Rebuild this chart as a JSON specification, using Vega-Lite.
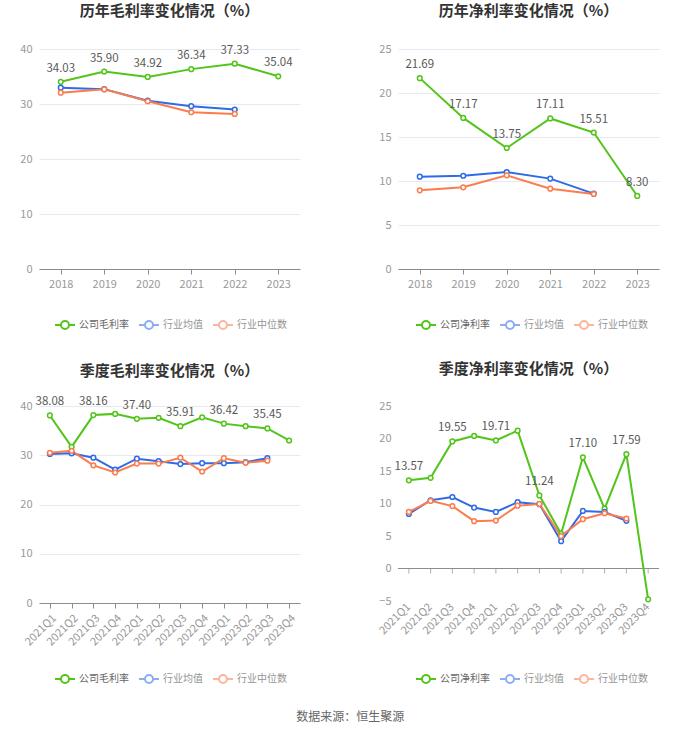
{
  "$schema": "https://vega.github.io/schema/vega-lite/v6.json",
  "padding": {"left": 9, "top": 4, "right": 0, "bottom": 0},
  "background": "white",
  "config": {
    "font": "Noto Sans CJK SC",
    "view": {"stroke": null},
    "title": {"fontSize": 15, "fontWeight": "bold", "color": "#333333", "frame": "group", "anchor": "middle", "offset": 24},
    "axis": {"labelColor": "#999999", "labelFontSize": 11, "title": null},
    "legend": {"labelColor": "#666666", "labelFontSize": 10}
  },
  "title": {"text": "数据来源：恒生聚源", "orient": "bottom", "fontSize": 12, "fontWeight": "normal", "color": "#666666", "anchor": "middle", "frame": "bounds", "offset": 25, "dx": 16},
  "datasets": {
    "annualGross": [
      {"p": "2018", "s": "公司毛利率", "v": 34.03, "l": true},
      {"p": "2019", "s": "公司毛利率", "v": 35.90, "l": true},
      {"p": "2020", "s": "公司毛利率", "v": 34.92, "l": true},
      {"p": "2021", "s": "公司毛利率", "v": 36.34, "l": true},
      {"p": "2022", "s": "公司毛利率", "v": 37.33, "l": true},
      {"p": "2023", "s": "公司毛利率", "v": 35.04, "l": true},
      {"p": "2018", "s": "行业均值", "v": 32.97, "l": false},
      {"p": "2019", "s": "行业均值", "v": 32.70, "l": false},
      {"p": "2020", "s": "行业均值", "v": 30.60, "l": false},
      {"p": "2021", "s": "行业均值", "v": 29.60, "l": false},
      {"p": "2022", "s": "行业均值", "v": 29.00, "l": false},
      {"p": "2018", "s": "行业中位数", "v": 32.06, "l": false},
      {"p": "2019", "s": "行业中位数", "v": 32.67, "l": false},
      {"p": "2020", "s": "行业中位数", "v": 30.50, "l": false},
      {"p": "2021", "s": "行业中位数", "v": 28.50, "l": false},
      {"p": "2022", "s": "行业中位数", "v": 28.20, "l": false}
    ],
    "annualNet": [
      {"p": "2018", "s": "公司净利率", "v": 21.69, "l": true},
      {"p": "2019", "s": "公司净利率", "v": 17.17, "l": true},
      {"p": "2020", "s": "公司净利率", "v": 13.75, "l": true},
      {"p": "2021", "s": "公司净利率", "v": 17.11, "l": true},
      {"p": "2022", "s": "公司净利率", "v": 15.51, "l": true},
      {"p": "2023", "s": "公司净利率", "v": 8.30, "l": true},
      {"p": "2018", "s": "行业均值", "v": 10.49, "l": false},
      {"p": "2019", "s": "行业均值", "v": 10.60, "l": false},
      {"p": "2020", "s": "行业均值", "v": 11.02, "l": false},
      {"p": "2021", "s": "行业均值", "v": 10.27, "l": false},
      {"p": "2022", "s": "行业均值", "v": 8.56, "l": false},
      {"p": "2018", "s": "行业中位数", "v": 8.94, "l": false},
      {"p": "2019", "s": "行业中位数", "v": 9.28, "l": false},
      {"p": "2020", "s": "行业中位数", "v": 10.64, "l": false},
      {"p": "2021", "s": "行业中位数", "v": 9.13, "l": false},
      {"p": "2022", "s": "行业中位数", "v": 8.52, "l": false}
    ],
    "quarterGross": [
      {"p": "2021Q1", "s": "公司毛利率", "v": 38.08, "l": true},
      {"p": "2021Q2", "s": "公司毛利率", "v": 31.70, "l": false},
      {"p": "2021Q3", "s": "公司毛利率", "v": 38.16, "l": true},
      {"p": "2021Q4", "s": "公司毛利率", "v": 38.40, "l": false},
      {"p": "2022Q1", "s": "公司毛利率", "v": 37.40, "l": true},
      {"p": "2022Q2", "s": "公司毛利率", "v": 37.60, "l": false},
      {"p": "2022Q3", "s": "公司毛利率", "v": 35.91, "l": true},
      {"p": "2022Q4", "s": "公司毛利率", "v": 37.70, "l": false},
      {"p": "2023Q1", "s": "公司毛利率", "v": 36.42, "l": true},
      {"p": "2023Q2", "s": "公司毛利率", "v": 35.90, "l": false},
      {"p": "2023Q3", "s": "公司毛利率", "v": 35.45, "l": true},
      {"p": "2023Q4", "s": "公司毛利率", "v": 33.00, "l": false},
      {"p": "2021Q1", "s": "行业均值", "v": 30.25, "l": false},
      {"p": "2021Q2", "s": "行业均值", "v": 30.40, "l": false},
      {"p": "2021Q3", "s": "行业均值", "v": 29.50, "l": false},
      {"p": "2021Q4", "s": "行业均值", "v": 27.10, "l": false},
      {"p": "2022Q1", "s": "行业均值", "v": 29.30, "l": false},
      {"p": "2022Q2", "s": "行业均值", "v": 28.80, "l": false},
      {"p": "2022Q3", "s": "行业均值", "v": 28.20, "l": false},
      {"p": "2022Q4", "s": "行业均值", "v": 28.40, "l": false},
      {"p": "2023Q1", "s": "行业均值", "v": 28.40, "l": false},
      {"p": "2023Q2", "s": "行业均值", "v": 28.60, "l": false},
      {"p": "2023Q3", "s": "行业均值", "v": 29.40, "l": false},
      {"p": "2021Q1", "s": "行业中位数", "v": 30.50, "l": false},
      {"p": "2021Q2", "s": "行业中位数", "v": 30.90, "l": false},
      {"p": "2021Q3", "s": "行业中位数", "v": 27.95, "l": false},
      {"p": "2021Q4", "s": "行业中位数", "v": 26.50, "l": false},
      {"p": "2022Q1", "s": "行业中位数", "v": 28.30, "l": false},
      {"p": "2022Q2", "s": "行业中位数", "v": 28.30, "l": false},
      {"p": "2022Q3", "s": "行业中位数", "v": 29.50, "l": false},
      {"p": "2022Q4", "s": "行业中位数", "v": 26.70, "l": false},
      {"p": "2023Q1", "s": "行业中位数", "v": 29.40, "l": false},
      {"p": "2023Q2", "s": "行业中位数", "v": 28.50, "l": false},
      {"p": "2023Q3", "s": "行业中位数", "v": 28.90, "l": false}
    ],
    "quarterNet": [
      {"p": "2021Q1", "s": "公司净利率", "v": 13.57, "l": true},
      {"p": "2021Q2", "s": "公司净利率", "v": 13.95, "l": false},
      {"p": "2021Q3", "s": "公司净利率", "v": 19.55, "l": true},
      {"p": "2021Q4", "s": "公司净利率", "v": 20.40, "l": false},
      {"p": "2022Q1", "s": "公司净利率", "v": 19.71, "l": true},
      {"p": "2022Q2", "s": "公司净利率", "v": 21.20, "l": false},
      {"p": "2022Q3", "s": "公司净利率", "v": 11.24, "l": true},
      {"p": "2022Q4", "s": "公司净利率", "v": 5.35, "l": false},
      {"p": "2023Q1", "s": "公司净利率", "v": 17.10, "l": true},
      {"p": "2023Q2", "s": "公司净利率", "v": 9.20, "l": false},
      {"p": "2023Q3", "s": "公司净利率", "v": 17.59, "l": true},
      {"p": "2023Q4", "s": "公司净利率", "v": -4.74, "l": false},
      {"p": "2021Q1", "s": "行业均值", "v": 8.40, "l": false},
      {"p": "2021Q2", "s": "行业均值", "v": 10.50, "l": false},
      {"p": "2021Q3", "s": "行业均值", "v": 11.00, "l": false},
      {"p": "2021Q4", "s": "行业均值", "v": 9.37, "l": false},
      {"p": "2022Q1", "s": "行业均值", "v": 8.70, "l": false},
      {"p": "2022Q2", "s": "行业均值", "v": 10.20, "l": false},
      {"p": "2022Q3", "s": "行业均值", "v": 9.90, "l": false},
      {"p": "2022Q4", "s": "行业均值", "v": 4.20, "l": false},
      {"p": "2023Q1", "s": "行业均值", "v": 8.86, "l": false},
      {"p": "2023Q2", "s": "行业均值", "v": 8.70, "l": false},
      {"p": "2023Q3", "s": "行业均值", "v": 7.33, "l": false},
      {"p": "2021Q1", "s": "行业中位数", "v": 8.70, "l": false},
      {"p": "2021Q2", "s": "行业中位数", "v": 10.40, "l": false},
      {"p": "2021Q3", "s": "行业中位数", "v": 9.60, "l": false},
      {"p": "2021Q4", "s": "行业中位数", "v": 7.28, "l": false},
      {"p": "2022Q1", "s": "行业中位数", "v": 7.38, "l": false},
      {"p": "2022Q2", "s": "行业中位数", "v": 9.67, "l": false},
      {"p": "2022Q3", "s": "行业中位数", "v": 9.93, "l": false},
      {"p": "2022Q4", "s": "行业中位数", "v": 4.99, "l": false},
      {"p": "2023Q1", "s": "行业中位数", "v": 7.59, "l": false},
      {"p": "2023Q2", "s": "行业中位数", "v": 8.50, "l": false},
      {"p": "2023Q3", "s": "行业中位数", "v": 7.69, "l": false}
    ]
  },
  "spacing": 29,
  "resolve": {"scale": {"color": "independent"}},
  "vconcat": [
    {
      "spacing": 68,
      "resolve": {"scale": {"color": "independent"}},
      "hconcat": [
        {
          "width": 261, "height": 220,
          "data": {"name": "annualGross"},
          "title": {"text": "历年毛利率变化情况（%）"},
          "layer": [
            {
              "mark": {"type": "line", "strokeWidth": 2, "point": {"filled": false, "fill": "white", "size": 22, "strokeWidth": 1.5}},
              "encoding": {
                "x": {"field": "p", "type": "ordinal", "sort": null, "axis": {"labelAngle": 0, "domainColor": "#8c8c8c", "tickColor": "#8c8c8c", "tickSize": 5, "labelPadding": 4}},
                "y": {"field": "v", "type": "quantitative", "scale": {"domain": [0, 40], "nice": false}, "axis": {"values": [0, 10, 20, 30, 40], "tickCount": 5, "domain": false, "ticks": false, "labelPadding": 7, "minExtent": 30, "maxExtent": 30, "gridColor": "#e6e9f2"}},
                "color": {"field": "s", "type": "nominal", "scale": {"domain": ["公司毛利率", "行业均值", "行业中位数"], "range": ["#52c41a", "#2f6be6", "#fb7c4c"]},
                  "legend": {"title": null, "orient": "none", "legendX": 15, "legendY": 265, "direction": "horizontal", "padding": 0, "columnPadding": 6, "labelOffset": 3, "symbolType": "M-1,0L-0.4,0M0.4,0L1,0M0.4,0A0.4,0.4 0 1,1 -0.4,0A0.4,0.4 0 1,1 0.4,0", "symbolSize": 400, "symbolStrokeWidth": 2,
                    "encode": {"symbols": {"update": {"opacity": {"signal": "datum.value == '公司毛利率' ? 1 : 0.55"}}}, "labels": {"update": {"opacity": {"signal": "datum.value == '公司毛利率' ? 1 : 0.7"}}}}}}
              }
            },
            {
              "transform": [{"filter": "datum.l"}],
              "mark": {"type": "text", "dy": -13, "fontSize": 11.5, "color": "#595959"},
              "encoding": {
                "x": {"field": "p", "type": "ordinal", "sort": null},
                "y": {"field": "v", "type": "quantitative"},
                "text": {"field": "v", "type": "quantitative", "format": ".2f"}
              }
            }
          ]
        },
        {
          "width": 261, "height": 220,
          "data": {"name": "annualNet"},
          "title": {"text": "历年净利率变化情况（%）"},
          "layer": [
            {
              "mark": {"type": "line", "strokeWidth": 2, "point": {"filled": false, "fill": "white", "size": 22, "strokeWidth": 1.5}},
              "encoding": {
                "x": {"field": "p", "type": "ordinal", "sort": null, "axis": {"labelAngle": 0, "domainColor": "#8c8c8c", "tickColor": "#8c8c8c", "tickSize": 5, "labelPadding": 4}},
                "y": {"field": "v", "type": "quantitative", "scale": {"domain": [0, 25], "nice": false}, "axis": {"values": [0, 5, 10, 15, 20, 25], "tickCount": 6, "domain": false, "ticks": false, "labelPadding": 7, "minExtent": 30, "maxExtent": 30, "gridColor": "#e6e9f2"}},
                "color": {"field": "s", "type": "nominal", "scale": {"domain": ["公司净利率", "行业均值", "行业中位数"], "range": ["#52c41a", "#2f6be6", "#fb7c4c"]},
                  "legend": {"title": null, "orient": "none", "legendX": 17, "legendY": 265, "direction": "horizontal", "padding": 0, "columnPadding": 6, "labelOffset": 3, "symbolType": "M-1,0L-0.4,0M0.4,0L1,0M0.4,0A0.4,0.4 0 1,1 -0.4,0A0.4,0.4 0 1,1 0.4,0", "symbolSize": 400, "symbolStrokeWidth": 2,
                    "encode": {"symbols": {"update": {"opacity": {"signal": "datum.value == '公司净利率' ? 1 : 0.55"}}}, "labels": {"update": {"opacity": {"signal": "datum.value == '公司净利率' ? 1 : 0.7"}}}}}}
              }
            },
            {
              "transform": [{"filter": "datum.l"}],
              "mark": {"type": "text", "dy": -13, "fontSize": 11.5, "color": "#595959"},
              "encoding": {
                "x": {"field": "p", "type": "ordinal", "sort": null},
                "y": {"field": "v", "type": "quantitative"},
                "text": {"field": "v", "type": "quantitative", "format": ".2f"}
              }
            }
          ]
        }
      ]
    },
    {
      "spacing": 68,
      "resolve": {"scale": {"color": "independent"}},
      "hconcat": [
        {
          "width": 261, "height": 197,
          "data": {"name": "quarterGross"},
          "title": {"text": "季度毛利率变化情况（%）", "offset": 17},
          "layer": [
            {
              "mark": {"type": "line", "strokeWidth": 2, "point": {"filled": false, "fill": "white", "size": 22, "strokeWidth": 1.5}},
              "encoding": {
                "x": {"field": "p", "type": "ordinal", "sort": null, "axis": {"labelAngle": -45, "domainColor": "#8c8c8c", "tickColor": "#8c8c8c", "tickSize": 5, "labelPadding": 4}},
                "y": {"field": "v", "type": "quantitative", "scale": {"domain": [0, 40], "nice": false}, "axis": {"values": [0, 10, 20, 30, 40], "tickCount": 5, "domain": false, "ticks": false, "labelPadding": 7, "minExtent": 30, "maxExtent": 30, "gridColor": "#e6e9f2"}},
                "color": {"field": "s", "type": "nominal", "scale": {"domain": ["公司毛利率", "行业均值", "行业中位数"], "range": ["#52c41a", "#2f6be6", "#fb7c4c"]},
                  "legend": {"title": null, "orient": "none", "legendX": 15, "legendY": 262, "direction": "horizontal", "padding": 0, "columnPadding": 6, "labelOffset": 3, "symbolType": "M-1,0L-0.4,0M0.4,0L1,0M0.4,0A0.4,0.4 0 1,1 -0.4,0A0.4,0.4 0 1,1 0.4,0", "symbolSize": 400, "symbolStrokeWidth": 2,
                    "encode": {"symbols": {"update": {"opacity": {"signal": "datum.value == '公司毛利率' ? 1 : 0.55"}}}, "labels": {"update": {"opacity": {"signal": "datum.value == '公司毛利率' ? 1 : 0.7"}}}}}}
              }
            },
            {
              "transform": [{"filter": "datum.l"}],
              "mark": {"type": "text", "dy": -13, "fontSize": 11.5, "color": "#595959"},
              "encoding": {
                "x": {"field": "p", "type": "ordinal", "sort": null},
                "y": {"field": "v", "type": "quantitative"},
                "text": {"field": "v", "type": "quantitative", "format": ".2f"}
              }
            }
          ]
        },
        {
          "width": 261, "height": 195,
          "data": {"name": "quarterNet"},
          "title": {"text": "季度净利率变化情况（%）", "offset": 23},
          "layer": [
            {
              "mark": {"type": "rule", "color": "#8c8c8c", "strokeWidth": 1},
              "encoding": {"y": {"datum": 0, "type": "quantitative"}}
            },
            {
              "transform": [{"filter": "datum.s == '公司净利率'"}],
              "mark": {"type": "tick", "orient": "vertical", "color": "#8c8c8c", "size": 5, "thickness": 1, "yOffset": 2.5},
              "encoding": {
                "x": {"field": "p", "type": "ordinal", "sort": null},
                "y": {"datum": 0, "type": "quantitative"}
              }
            },
            {
              "mark": {"type": "line", "strokeWidth": 2, "point": {"filled": false, "fill": "white", "size": 22, "strokeWidth": 1.5}},
              "encoding": {
                "x": {"field": "p", "type": "ordinal", "sort": null, "axis": {"labelAngle": -45, "domain": false, "ticks": false, "labelPadding": 4}},
                "y": {"field": "v", "type": "quantitative", "scale": {"domain": [-5, 25], "nice": false}, "axis": {"values": [-5, 0, 5, 10, 15, 20, 25], "tickCount": 7, "labelOverlap": false, "domain": false, "ticks": false, "labelPadding": 7, "minExtent": 30, "maxExtent": 30, "gridColor": "#e6e9f2"}},
                "color": {"field": "s", "type": "nominal", "scale": {"domain": ["公司净利率", "行业均值", "行业中位数"], "range": ["#52c41a", "#2f6be6", "#fb7c4c"]},
                  "legend": {"title": null, "orient": "none", "legendX": 17, "legendY": 262, "direction": "horizontal", "padding": 0, "columnPadding": 6, "labelOffset": 3, "symbolType": "M-1,0L-0.4,0M0.4,0L1,0M0.4,0A0.4,0.4 0 1,1 -0.4,0A0.4,0.4 0 1,1 0.4,0", "symbolSize": 400, "symbolStrokeWidth": 2,
                    "encode": {"symbols": {"update": {"opacity": {"signal": "datum.value == '公司净利率' ? 1 : 0.55"}}}, "labels": {"update": {"opacity": {"signal": "datum.value == '公司净利率' ? 1 : 0.7"}}}}}}
              }
            },
            {
              "transform": [{"filter": "datum.l"}],
              "mark": {"type": "text", "dy": -13, "fontSize": 11.5, "color": "#595959"},
              "encoding": {
                "x": {"field": "p", "type": "ordinal", "sort": null},
                "y": {"field": "v", "type": "quantitative"},
                "text": {"field": "v", "type": "quantitative", "format": ".2f"}
              }
            }
          ]
        }
      ]
    }
  ]
}
